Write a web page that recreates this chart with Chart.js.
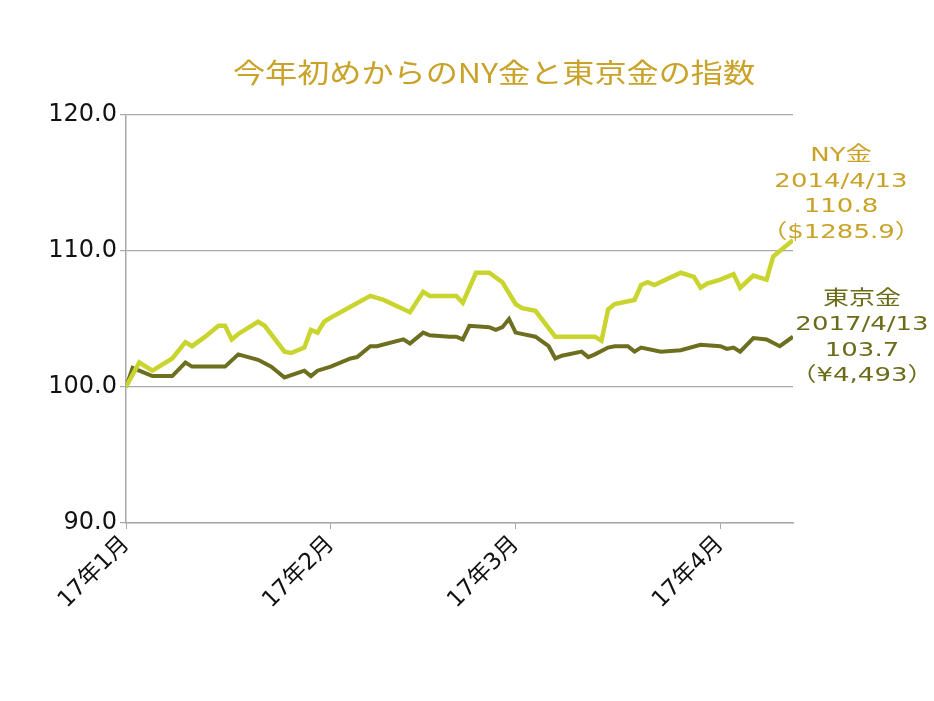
<!DOCTYPE html>
<html>
<head>
<meta charset="utf-8">
<script src="https://cdn.jsdelivr.net/npm/chart.js@4.4.1/dist/chart.umd.min.js"></script>
<style>
  html, body { margin: 0; padding: 0; background: #fff; }
  #wrap { width: 934px; height: 701px; }
</style>
</head>
<body>
<div id="wrap"><canvas id="goldChart" width="934" height="701"></canvas></div>
<script>
'use strict';

//////// DATA ////////
// x = days since 17/1/1
let monthTicks = [0, 31, 59, 90];
let monthLabels = ['17年1月', '17年2月', '17年3月', '17年4月'];
let yTicks = [90, 100, 110, 120];

let nyDays = [0, 2, 4, 7, 9, 10, 12, 14, 15, 16, 17, 20, 21, 24, 25, 27, 28, 29, 30, 31,
  34, 37, 39, 43, 45, 46, 49, 50, 51, 53, 55, 57, 59, 60, 62, 65, 67, 71, 72, 73,
  74, 77, 78, 79, 80, 84, 86, 87, 88, 90, 92, 93, 95, 97, 98, 99, 101];
let nyValues = [100.0, 101.8, 101.2, 102.1, 103.3, 103.0, 103.7, 104.5, 104.5, 103.5, 103.9, 104.8, 104.5, 102.6, 102.5, 102.9, 104.2, 104.0, 104.8, 105.1,
  105.9, 106.7, 106.4, 105.5, 107.0, 106.7, 106.7, 106.7, 106.2, 108.4, 108.4, 107.7, 106.1, 105.8, 105.6, 103.7, 103.7, 103.7, 103.4, 105.7,
  106.1, 106.4, 107.5, 107.7, 107.5, 108.4, 108.1, 107.3, 107.6, 107.9, 108.3, 107.3, 108.2, 107.9, 109.6, 110.0, 110.8];

let tokyoDays = [0, 1, 2, 4, 7, 9, 10, 14, 15, 17, 20, 22, 24, 27, 28, 29, 31, 34, 35, 37,
  38, 42, 43, 45, 46, 49, 50, 51, 52, 55, 56, 57, 58, 59, 62, 64, 65, 66, 69, 70,
  71, 73, 74, 76, 77, 78, 81, 84, 87, 90, 91, 92, 93, 95, 97, 99, 101];
let tokyoValues = [100.0, 101.4, 101.2, 100.8, 100.8, 101.8, 101.5, 101.5, 101.5, 102.4, 102.0, 101.5, 100.7, 101.2, 100.8, 101.2, 101.5, 102.1, 102.2, 103.0,
  103.0, 103.5, 103.2, 104.0, 103.8, 103.7, 103.7, 103.5, 104.5, 104.4, 104.2, 104.4, 105.0, 104.0, 103.7, 103.0, 102.1, 102.3, 102.6, 102.2,
  102.4, 102.9, 103.0, 103.0, 102.6, 102.9, 102.6, 102.7, 103.1, 103.0, 102.8, 102.9, 102.6, 103.6, 103.5, 103.0, 103.7];

let nyNote = ['NY金', '2014/4/13', '110.8', '（$1285.9）'];
let tokyoNote = ['東京金', '2017/4/13', '103.7', '（¥4,493）'];

//////// COLOURS / FONTS ////////
const NY_COLOR = '#c9d42e';
const TOKYO_COLOR = '#6d6f1f';
const GOLD_TEXT = '#c9a227';
const OLIVE_TEXT = '#6b6b1a';
const GRID = '#a8a8a8';
const FONT = '"DejaVu Sans", "Noto Sans CJK JP", sans-serif';

function toPoints(days, values){
  let pts = [];
  for (let i = 0; i < days.length; i++){
    pts.push({x: days[i], y: values[i]});
  }
  return pts;
}

// stretched text, like the original slide
function wideText(ctx, txt, cx, cy, sx){
  ctx.save();
  ctx.translate(cx, cy);
  ctx.scale(sx, 1);
  ctx.fillText(txt, 0, 0);
  ctx.restore();
}

const textPlugin = {
  id: 'textPlugin',
  beforeDraw(chart){
    const ctx = chart.ctx;
    ctx.save();
    ctx.fillStyle = '#fff';
    ctx.fillRect(0, 0, chart.width, chart.height);
    ctx.restore();
  },
  afterDraw(chart){
    const ctx = chart.ctx;
    ctx.save();
    ctx.textAlign = 'center';
    ctx.textBaseline = 'middle';

    // title
    ctx.fillStyle = GOLD_TEXT;
    ctx.font = '27px "Noto Sans CJK JP", sans-serif';
    wideText(ctx, '今年初めからのNY金と東京金の指数', 494, 73, 1.19);

    // notes at the right end
    ctx.font = '20px ' + FONT;
    ctx.fillStyle = GOLD_TEXT;
    for (let i = 0; i < nyNote.length; i++){
      wideText(ctx, nyNote[i], 841, 156 + i * 25.5, 1.3);
    }
    ctx.fillStyle = OLIVE_TEXT;
    for (let i = 0; i < tokyoNote.length; i++){
      wideText(ctx, tokyoNote[i], 862, 300 + i * 25.2, 1.3);
    }
    ctx.restore();
  }
};

const data = {
  datasets: [{
    label: 'NY金',
    data: toPoints(nyDays, nyValues),
    borderColor: NY_COLOR,
    borderWidth: 4.5,
    pointRadius: 0,
    tension: 0
  },
  {
    label: '東京金',
    data: toPoints(tokyoDays, tokyoValues),
    borderColor: TOKYO_COLOR,
    borderWidth: 4,
    pointRadius: 0,
    tension: 0
  }]
};

const ctx = document.getElementById('goldChart');
const goldChart = new Chart(ctx, {
  type: 'line',
  data: data,
  plugins: [textPlugin],
  options: {
    responsive: false,
    animation: false,
    layout: { padding: { left: 0, right: 141, top: 115, bottom: 0 } },
    plugins: {
      legend: { display: false },
      tooltip: { enabled: false }
    },
    scales: {
      x: {
        type: 'linear',
        min: 0,
        max: 101,
        afterBuildTicks: (scale) => { scale.ticks = monthTicks.map(v => ({value: v})); },
        afterFit: (scale) => { scale.height = 178; },
        grid: { drawOnChartArea: false, drawTicks: true, tickLength: 6, color: GRID },
        border: { color: GRID, width: 1.5 },
        ticks: {
          autoSkip: false,
          minRotation: 45,
          maxRotation: 45,
          padding: 2,
          color: '#111',
          font: { family: FONT, size: 23 },
          callback: (v) => monthLabels[monthTicks.indexOf(v)]
        }
      },
      y: {
        min: 90,
        max: 120,
        afterBuildTicks: (scale) => { scale.ticks = yTicks.map(v => ({value: v})); },
        afterFit: (scale) => { scale.width = 126; },
        grid: { color: GRID, lineWidth: 1.2, tickLength: 6 },
        border: { color: GRID, width: 1.5 },
        ticks: {
          padding: 3,
          color: '#111',
          font: { family: FONT, size: 24 },
          callback: (v) => v.toFixed(1)
        }
      }
    }
  }
});
</script>
</body>
</html>
